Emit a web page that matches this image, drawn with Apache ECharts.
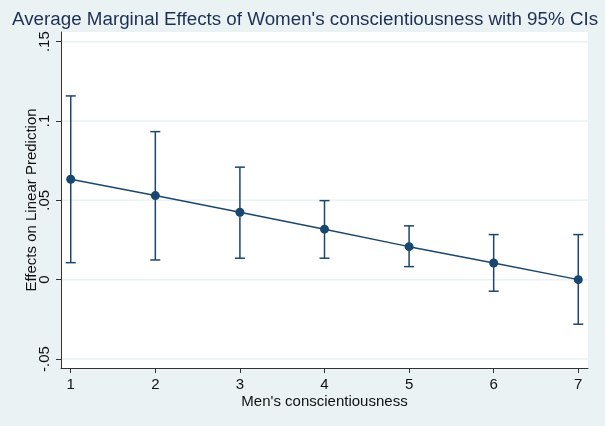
<!DOCTYPE html>
<html><head><meta charset="utf-8">
<script src="https://cdn.jsdelivr.net/npm/echarts@6/dist/echarts.min.js"></script>
<style>html,body{margin:0;padding:0;background:#EAF2F3}#c{width:605px;height:426px}</style>
</head><body><div id="c"></div>
<script>
const categories = [1, 2, 3, 4, 5, 6, 7];
const estimates = [0.0633, 0.0530, 0.0425, 0.0318, 0.0208, 0.0105, 0.0000];
const upper = [0.1158, 0.0933, 0.0709, 0.0498, 0.0339, 0.0284, 0.0284];
const lower = [0.0107, 0.0124, 0.0135, 0.0135, 0.0082, -0.0073, -0.0281];
const yTicks = [-0.05, 0, 0.05, 0.1, 0.15];
const yTickLabels = ['-.05', '0', '.05', '.1', '.15'];

const navy = '#1A476F';
const xMin = 0.885, xMax = 7.115;
const chart = echarts.init(document.getElementById('c'));
const fmtY = v => { const i = yTicks.findIndex(t => Math.abs(t - v) < 1e-9); return i >= 0 ? yTickLabels[i] : ''; };
const font = 'Liberation Sans, Arial';
chart.setOption({
  backgroundColor: '#EAF2F3',
  animation: false,
  title: {
    text: "Average Marginal Effects of Women's conscientiousness with 95% CIs",
    left: 7, top: 5,
    textStyle: { fontFamily: font, fontSize: 18.8, fontWeight: 'normal', color: '#1E2F55' }
  },
  grid: { left: 61, right: 17, top: 32, bottom: 58, show: true, backgroundColor: '#FFFFFF', borderWidth: 0 },
  xAxis: {
    type: 'value', min: xMin, max: xMax,
    name: "Men's conscientiousness", nameLocation: 'middle', nameGap: 26, nameMoveOverlap: false,
    nameTextStyle: { fontFamily: font, fontSize: 15, color: '#111' },
    axisLine: { show: true, onZero: false, lineStyle: { color: '#333', width: 1 } },
    axisTick: { show: true, length: 5, customValues: categories, lineStyle: { color: '#333' } },
    axisLabel: { customValues: categories, margin: 9, fontFamily: font, fontSize: 15, color: '#111' },
    splitLine: { show: false }
  },
  yAxis: {
    type: 'value', min: -0.0557, max: 0.1561,
    name: 'Effects on Linear Prediction', nameLocation: 'middle', nameGap: 22, nameRotate: 90, nameMoveOverlap: false,
    nameTextStyle: { fontFamily: font, fontSize: 15, color: '#111' },
    axisLine: { show: true, onZero: false, lineStyle: { color: '#333', width: 1 } },
    axisTick: { show: true, length: 5, customValues: yTicks, lineStyle: { color: '#333' } },
    axisLabel: { customValues: yTicks, rotate: 90, margin: 9, formatter: fmtY, fontFamily: font, fontSize: 15, color: '#111' },
    splitLine: { show: false }
  },
  series: [
    {
      type: 'custom', z: 1, silent: true,
      data: yTicks.map(v => [v]),
      renderItem: function (params, api) {
        const v = api.value(0);
        const a = api.coord([xMin, v]);
        const b = api.coord([xMax, v]);
        return { type: 'line', shape: { x1: a[0] + 1, y1: a[1], x2: b[0], y2: b[1] }, style: { stroke: '#EAF2F3', lineWidth: 1.5 } };
      },
      encode: { y: 0 }
    },
    {
      type: 'custom', z: 3,
      data: categories.map((c, i) => [c, lower[i], upper[i]]),
      renderItem: function (params, api) {
        const x = api.value(0);
        const lo = api.coord([x, api.value(1)]);
        const hi = api.coord([x, api.value(2)]);
        const w = 5;
        const style = { stroke: navy, lineWidth: 1.5 };
        return { type: 'group', children: [
          { type: 'line', shape: { x1: lo[0], y1: lo[1], x2: hi[0], y2: hi[1] }, style },
          { type: 'line', shape: { x1: hi[0] - w, y1: hi[1], x2: hi[0] + w, y2: hi[1] }, style },
          { type: 'line', shape: { x1: lo[0] - w, y1: lo[1], x2: lo[0] + w, y2: lo[1] }, style }
        ]};
      }
    },
    {
      type: 'line', z: 4,
      data: categories.map((c, i) => [c, estimates[i]]),
      symbol: 'circle', symbolSize: 9,
      lineStyle: { color: navy, width: 1.5 },
      itemStyle: { color: navy }
    }
  ]
});
</script></body></html>
